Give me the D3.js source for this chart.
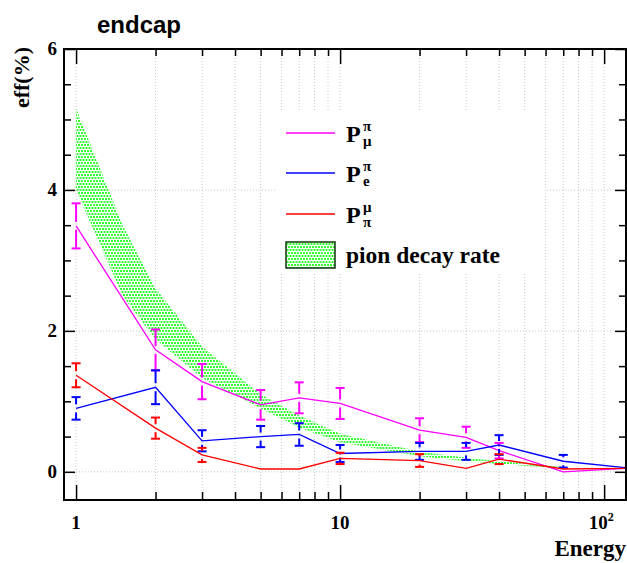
<!DOCTYPE html>
<html>
<head>
<meta charset="utf-8">
<script src="https://cdn.jsdelivr.net/npm/d3@7"></script>
<style>
body { margin: 0; background: #fff; }
</style>
</head>
<body>
<div id="chart"></div>
<script>
let width = 627;
let height = 563;

// data
let energy = [1, 2, 3, 5, 7, 10, 20, 30, 40, 70, 120];
let pMuPi = [3.49, 1.73, 1.28, 0.95, 1.05, 0.97, 0.59, 0.49, 0.30, 0.00, 0.05];
let pMuPiErr = [0.32, 0.29, 0.25, 0.21, 0.22, 0.22, 0.17, 0.15, 0.11, 0, 0];
let pEPi = [0.90, 1.20, 0.44, 0.50, 0.53, 0.26, 0.29, 0.29, 0.38, 0.15, 0.06];
let pEPiErr = [0.16, 0.24, 0.15, 0.15, 0.16, 0.12, 0.12, 0.12, 0.14, 0.09, 0];
let pPiMu = [1.37, 0.62, 0.24, 0.04, 0.04, 0.19, 0.16, 0.05, 0.18, 0.04, 0.05];
let pPiMuErr = [0.17, 0.15, 0.10, 0, 0, 0.08, 0.09, 0, 0.07, 0, 0];

// pion decay band
let bandE = [1, 1.5, 2, 3, 5, 7, 10, 20, 30, 40, 70];
let bandHi = [5.16, 3.5, 2.6, 1.78, 1.1, 0.8, 0.54, 0.29, 0.2, 0.15, 0.07];
let bandLo = [4.0, 2.5, 1.88, 1.33, 0.9, 0.63, 0.42, 0.22, 0.15, 0.11, 0.05];

let xMajor = [1, 10, 100];
let xMinor = [2, 3, 4, 5, 6, 7, 8, 9, 20, 30, 40, 50, 60, 70, 80, 90];
let yMajor = [0, 2, 4, 6];
let yMinor = [0.5, 1, 1.5, 2.5, 3, 3.5, 4.5, 5, 5.5];

let padL = 64, padR = 626, padT = 49, padB = 500;
let serif = "'Liberation Serif', 'Times New Roman', serif";

let svg = d3.select("#chart").append("svg")
    .attr("width", width)
    .attr("height", height);

let x = d3.scaleLog().domain([0.9, 121]).range([padL, padR]);
let y = d3.scaleLinear().domain([-0.4, 6]).range([padB, padT]);

// dotted fill like root's hatch style
let defs = svg.append("defs");
let pat = defs.append("pattern")
    .attr("id", "dots")
    .attr("width", 6).attr("height", 6)
    .attr("patternUnits", "userSpaceOnUse");
[[0, 0], [3, 0], [1.5, 3], [4.5, 3]].forEach(function(p){
    pat.append("rect").attr("x", p[0]).attr("y", p[1])
        .attr("width", 2).attr("height", 2).attr("fill", "#33ff33");
});
pat.append("rect").attr("x", -1.5).attr("y", 3).attr("width", 2).attr("height", 2).attr("fill", "#33ff33");

// grid
let grid = svg.append("g")
    .attr("stroke", "#c8c8c8")
    .attr("stroke-dasharray", "1,2")
    .attr("stroke-width", 1);
grid.selectAll(".gx")
    .data(xMajor.concat(xMinor).filter(function(d){ return d <= 100; }))
    .enter().append("line")
    .attr("x1", function(d){ return x(d); })
    .attr("x2", function(d){ return x(d); })
    .attr("y1", padT).attr("y2", padB);
grid.selectAll(".gy")
    .data([0, 2, 4])
    .enter().append("line")
    .attr("x1", padL).attr("x2", padR)
    .attr("y1", function(d){ return y(d); })
    .attr("y2", function(d){ return y(d); });

// band
let area = d3.area()
    .x(function(d, i){ return x(bandE[i]); })
    .y0(function(d, i){ return y(bandLo[i]); })
    .y1(function(d, i){ return y(bandHi[i]); });
svg.append("path")
    .attr("d", area(bandE))
    .attr("fill", "url(#dots)");

// series
let series = [
    {vals: pMuPi, errs: pMuPiErr, color: "#ff00ff"},
    {vals: pEPi, errs: pEPiErr, color: "#0000ff"},
    {vals: pPiMu, errs: pPiMuErr, color: "#ff0000"}
];
let line = d3.line()
    .x(function(d){ return x(d[0]); })
    .y(function(d){ return y(d[1]); });

series.forEach(function(s){
    let pts = energy.map(function(e, i){ return [e, s.vals[i], s.errs[i]]; });
    svg.append("path")
        .attr("d", line(pts))
        .attr("fill", "none")
        .attr("stroke", s.color)
        .attr("stroke-width", 1.3);
    let eb = svg.append("g")
        .attr("stroke", s.color)
        .attr("stroke-width", 2);
    pts.filter(function(p){ return p[2] > 0; }).forEach(function(p){
        let cx = x(p[0]), cy = y(p[1]);
        let yt = y(p[1] + p[2]), yb = y(p[1] - p[2]);
        let gap = 4;
        if (cy - gap > yt) eb.append("line").attr("x1", cx).attr("x2", cx).attr("y1", yt).attr("y2", cy - gap);
        if (cy + gap < yb) eb.append("line").attr("x1", cx).attr("x2", cx).attr("y1", cy + gap).attr("y2", yb);
        eb.append("line").attr("x1", cx - 4.5).attr("x2", cx + 4.5).attr("y1", yt).attr("y2", yt);
        eb.append("line").attr("x1", cx - 4.5).attr("x2", cx + 4.5).attr("y1", yb).attr("y2", yb);
    });
});

// axes ticks (inward)
function ticks(axis, tr) {
    let g = svg.append("g").attr("transform", tr).call(axis);
    g.select(".domain").remove();
    g.selectAll("text").remove();
    g.selectAll("line").attr("stroke", "#000").attr("stroke-width", 1.5);
}
ticks(d3.axisBottom(x).tickValues(xMajor).tickSize(-15), "translate(0," + padB + ")");
ticks(d3.axisBottom(x).tickValues(xMinor).tickSize(-8), "translate(0," + padB + ")");
ticks(d3.axisTop(x).tickValues(xMajor).tickSize(-15), "translate(0," + padT + ")");
ticks(d3.axisTop(x).tickValues(xMinor).tickSize(-7), "translate(0," + padT + ")");
ticks(d3.axisLeft(y).tickValues(yMajor).tickSize(-11), "translate(" + padL + ",0)");
ticks(d3.axisLeft(y).tickValues(yMinor).tickSize(-7), "translate(" + padL + ",0)");
ticks(d3.axisRight(y).tickValues(yMajor).tickSize(-11), "translate(" + padR + ",0)");
ticks(d3.axisRight(y).tickValues(yMinor).tickSize(-7), "translate(" + padR + ",0)");

// frame
svg.append("rect")
    .attr("x", padL).attr("y", padT)
    .attr("width", padR - padL).attr("height", padB - padT)
    .attr("fill", "none")
    .attr("stroke", "#000")
    .attr("stroke-width", 2);

// tick labels
svg.selectAll(".ylab")
    .data(yMajor)
    .enter().append("text")
    .attr("x", 57)
    .attr("y", function(d){ return y(d) + 6; })
    .attr("text-anchor", "end")
    .attr("font-family", serif)
    .attr("font-weight", "bold")
    .attr("font-size", 19)
    .text(function(d){ return d; });

svg.append("text").attr("x", x(1)).attr("y", 529)
    .attr("text-anchor", "middle").attr("font-family", serif)
    .attr("font-weight", "bold").attr("font-size", 19).text("1");
svg.append("text").attr("x", x(10)).attr("y", 529)
    .attr("text-anchor", "middle").attr("font-family", serif)
    .attr("font-weight", "bold").attr("font-size", 19).text("10");
let t100 = svg.append("text").attr("x", x(100) - 3).attr("y", 529)
    .attr("text-anchor", "middle").attr("font-family", serif)
    .attr("font-weight", "bold").attr("font-size", 19);
t100.append("tspan").text("10");
t100.append("tspan").attr("dy", -8).attr("font-size", 12).text("2");

// titles
svg.append("text")
    .attr("x", 97).attr("y", 33)
    .attr("font-family", "'Liberation Sans', Arial, sans-serif")
    .attr("font-weight", "bold")
    .attr("font-size", 24)
    .text("endcap");
svg.append("text")
    .attr("x", 626).attr("y", 556)
    .attr("text-anchor", "end")
    .attr("font-family", serif)
    .attr("font-weight", "bold")
    .attr("font-size", 23)
    .text("Energy");
svg.append("text")
    .attr("transform", "translate(29,47) rotate(-90)")
    .attr("text-anchor", "end")
    .attr("font-family", serif)
    .attr("font-weight", "bold")
    .attr("font-size", 22)
    .text("eff(%)");

// legend
let leg = svg.append("g");
leg.append("rect")
    .attr("x", 275).attr("y", 112)
    .attr("width", 270).attr("height", 160)
    .attr("fill", "#fff");
let legItems = [
    {main: "P", sup: "\u03c0", sub: "\u03bc", color: "#ff00ff", ly: 133},
    {main: "P", sup: "\u03c0", sub: "e", color: "#0000ff", ly: 173},
    {main: "P", sup: "\u03bc", sub: "\u03c0", color: "#ff0000", ly: 214}
];
legItems.forEach(function(d){
    leg.append("line")
        .attr("x1", 286).attr("x2", 335)
        .attr("y1", d.ly).attr("y2", d.ly)
        .attr("stroke", d.color).attr("stroke-width", 1.5);
    leg.append("text")
        .attr("x", 346).attr("y", d.ly + 9)
        .attr("font-family", serif).attr("font-weight", "bold")
        .attr("font-size", 24).text(d.main);
    leg.append("text")
        .attr("x", 363).attr("y", d.ly - 2)
        .attr("font-family", serif).attr("font-weight", "bold")
        .attr("font-size", 15).text(d.sup);
    leg.append("text")
        .attr("x", 363).attr("y", d.ly + 13)
        .attr("font-family", serif).attr("font-weight", "bold")
        .attr("font-size", 15).text(d.sub);
});
leg.append("rect")
    .attr("x", 286).attr("y", 242)
    .attr("width", 49).attr("height", 26)
    .attr("fill", "url(#dots)")
    .attr("stroke", "#113311").attr("stroke-width", 1.5);
leg.append("text")
    .attr("x", 346).attr("y", 263)
    .attr("font-family", serif).attr("font-weight", "bold")
    .attr("font-size", 23.5).text("pion decay rate");
</script>
</body>
</html>
